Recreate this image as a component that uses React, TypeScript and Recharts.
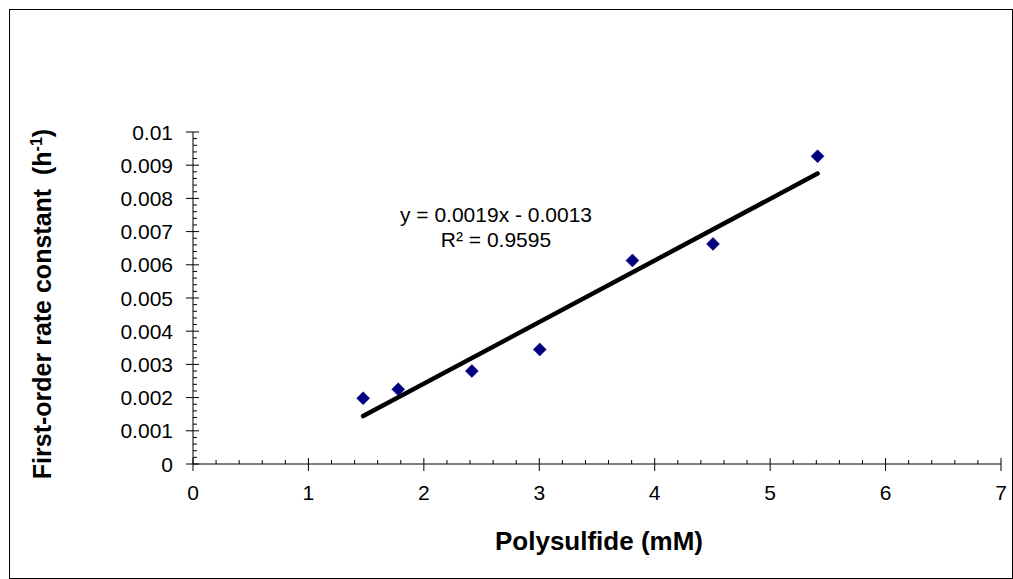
import React from 'react';
import { ComposedChart, Scatter, Line, XAxis, YAxis, ReferenceDot } from 'recharts';

// ---- data ----
const polysulfide = [1.474, 1.778, 2.416, 3.004, 3.807, 4.505, 5.411];
const rateConstant = [0.00198, 0.00225, 0.0028, 0.00345, 0.00613, 0.00663, 0.00927];
const xMajorTicks = [0, 1, 2, 3, 4, 5, 6, 7];
const yMajorTicks = [0, 0.001, 0.002, 0.003, 0.004, 0.005, 0.006, 0.007, 0.008, 0.009, 0.01];
const yTickLabels = ['0', '0.001', '0.002', '0.003', '0.004', '0.005', '0.006', '0.007', '0.008', '0.009', '0.01'];
const equationText = 'y = 0.0019x - 0.0013';
const r2Text = 'R² = 0.9595';
const xTitle = 'Polysulfide (mM)';
const yTitle = 'First-order rate constant  (h';

const points = polysulfide.map((x, i) => ({ x, y: rateConstant[i] }));

// least-squares trendline from the data
const n = polysulfide.length;
const mx = polysulfide.reduce((a, b) => a + b, 0) / n;
const my = rateConstant.reduce((a, b) => a + b, 0) / n;
let sxy = 0;
let sxx = 0;
for (let i = 0; i < n; i++) {
  sxy += (polysulfide[i] - mx) * (rateConstant[i] - my);
  sxx += (polysulfide[i] - mx) ** 2;
}
const slope = sxy / sxx;
const intercept = my - slope * mx;
const xMin = Math.min(...polysulfide);
const xMax = Math.max(...polysulfide);
const trend = [
  { x: xMin, t: slope * xMin + intercept },
  { x: xMax, t: slope * xMax + intercept },
];

// minor tick subdivisions (5 per major interval)
const xAllTicks: number[] = [];
for (let i = 0; i < xMajorTicks.length - 1; i++) {
  for (let k = 0; k < 5; k++) xAllTicks.push(Math.round((xMajorTicks[i] + k * 0.2) * 10) / 10);
}
xAllTicks.push(xMajorTicks[xMajorTicks.length - 1]);
const yAllTicks: number[] = [];
for (let i = 0; i < yMajorTicks.length - 1; i++) {
  for (let k = 0; k < 5; k++) yAllTicks.push(Math.round((yMajorTicks[i] + k * 0.0002) * 1e5) / 1e5);
}
yAllTicks.push(yMajorTicks[yMajorTicks.length - 1]);

const FONT = '"Liberation Sans", Arial, sans-serif';

const XTick = (props: any) => {
  const { x, y, payload } = props;
  const v = payload.value as number;
  const major = Math.abs(v - Math.round(v)) < 1e-6;
  return (
    <g>
      {major ? (
        <line x1={x} x2={x} y1={y - 6} y2={y + 7} stroke="#000" strokeWidth={1} />
      ) : (
        <line x1={x} x2={x} y1={y - 4} y2={y} stroke="#000" strokeWidth={1} />
      )}
      {major && (
        <text x={x} y={y + 36} textAnchor="middle" fontSize={21} fontFamily={FONT} fill="#000">
          {String(v)}
        </text>
      )}
    </g>
  );
};

const YTick = (props: any) => {
  const { x, y, payload } = props;
  const v = payload.value as number;
  const idx = Math.round(v * 1000);
  const major = Math.abs(v * 1000 - idx) < 1e-6;
  return (
    <g>
      {major ? (
        <line x1={x - 7} x2={x + 6} y1={y} y2={y} stroke="#000" strokeWidth={1} />
      ) : (
        <line x1={x} x2={x + 4} y1={y} y2={y} stroke="#000" strokeWidth={1} />
      )}
      {major && (
        <text x={x - 20} y={y + 7.5} textAnchor="end" fontSize={21} fontFamily={FONT} fill="#000">
          {yTickLabels[idx]}
        </text>
      )}
    </g>
  );
};

const Diamond = (props: any) => {
  const { cx, cy } = props;
  const r = 6.5;
  return (
    <polygon
      points={`${cx},${cy - r} ${cx + r},${cy} ${cx},${cy + r} ${cx - r},${cy}`}
      fill="#000080"
      stroke="#000080"
      strokeWidth={0.5}
    />
  );
};

const EquationLabel = (props: any) => {
  const vb = props.viewBox || {};
  const cx = (vb.x ?? 0) + (vb.width ?? 0) / 2;
  const cy = (vb.y ?? 0) + (vb.height ?? 0) / 2;
  return (
    <g>
      <text x={cx} y={cy} textAnchor="middle" fontSize={21} fontFamily={FONT} fill="#000">
        {equationText}
      </text>
      <text x={cx} y={cy + 25} textAnchor="middle" fontSize={21} fontFamily={FONT} fill="#000">
        {r2Text}
      </text>
    </g>
  );
};

const YTitle = () => (
  <text
    x={51}
    y={304}
    transform="rotate(-90 51 304)"
    textAnchor="middle"
    fontSize={25}
    fontWeight="bold"
    fontFamily={FONT}
    fill="#000"
    style={{ whiteSpace: 'pre' }}
  >
    {yTitle}
    <tspan dy={-9} fontSize={16}>-1</tspan>
    <tspan dy={9}>)</tspan>
  </text>
);

const XTitle = () => (
  <text x={599} y={550} textAnchor="middle" fontSize={26} fontWeight="bold" fontFamily={FONT} fill="#000">
    {xTitle}
  </text>
);

export default function App() {
  return (
    <div style={{ position: 'absolute', left: 0, top: 0, width: 1013, height: 579, background: '#fff' }}>
      <ComposedChart
        width={1013}
        height={579}
        margin={{ top: 132, right: 12, left: 0, bottom: 0 }}
        data={points}
      >
        <XAxis
          type="number"
          dataKey="x"
          domain={[0, 7]}
          ticks={xAllTicks}
          interval={0}
          height={115}
          tickSize={0}
          tickMargin={0}
          tickLine={false}
          axisLine={{ stroke: '#000', strokeWidth: 1 }}
          tick={<XTick />}
          label={{ content: () => <XTitle /> }}
          allowDataOverflow
        />
        <YAxis
          type="number"
          dataKey="y"
          domain={[0, 0.01]}
          ticks={yAllTicks}
          interval={0}
          width={193}
          tickSize={0}
          tickMargin={0}
          tickLine={false}
          axisLine={{ stroke: '#000', strokeWidth: 1 }}
          tick={<YTick />}
          label={{ content: () => <YTitle /> }}
          allowDataOverflow
        />
        <Line
          data={trend}
          dataKey="t"
          dot={false}
          activeDot={false}
          stroke="#000"
          strokeWidth={4.5}
          strokeLinecap="round"
          isAnimationActive={false}
          legendType="none"
        />
        <Scatter data={points} dataKey="y" shape={<Diamond />} isAnimationActive={false} />
        <ReferenceDot
          x={2.625}
          y={0.00729}
          r={1}
          fill="none"
          stroke="none"
          label={{ content: (p: any) => <EquationLabel {...p} /> }}
        />
      </ComposedChart>
      <div
        style={{
          position: 'absolute',
          left: 9,
          top: 9,
          width: 1004,
          height: 570,
          border: '1px solid #000',
          boxSizing: 'border-box',
          pointerEvents: 'none',
        }}
      />
    </div>
  );
}
